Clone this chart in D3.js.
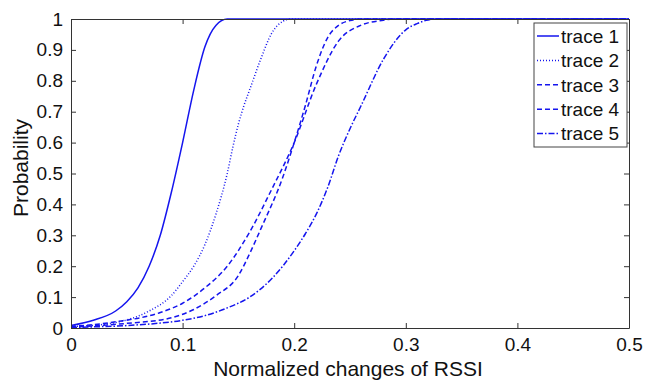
<head>
<meta charset="utf-8">
<style>
 body { margin: 0; background: #fff; }
 text { font-family: "Liberation Sans", Arial, sans-serif; fill: #111; }
</style>
</head>
<body>
<script src="https://d3js.org/d3.v7.min.js"></script>
<div id="chart"></div>
<script>
// values
var names = ["trace 1", "trace 2", "trace 3", "trace 4", "trace 5"];
var dashes = ["none", "1,2", "5,3", "5,3", "6,2,1.5,2"];

var x1 = [0, 0.02, 0.04, 0.05, 0.06, 0.07, 0.08, 0.09, 0.1, 0.11, 0.12, 0.13, 0.14, 0.5];
var y1 = [0.008, 0.025, 0.055, 0.085, 0.13, 0.2, 0.3, 0.44, 0.6, 0.77, 0.91, 0.98, 1, 1];

var x2 = [0, 0.03, 0.05, 0.07, 0.09, 0.1, 0.11, 0.12, 0.13, 0.14, 0.145, 0.15, 0.155, 0.16, 0.17, 0.18, 0.19, 0.196, 0.5];
var y2 = [0.005, 0.012, 0.026, 0.055, 0.105, 0.15, 0.2, 0.27, 0.37, 0.5, 0.585, 0.66, 0.72, 0.77, 0.87, 0.955, 0.993, 1, 1];

var x3 = [0, 0.04, 0.08, 0.1, 0.12, 0.14, 0.16, 0.18, 0.2, 0.22, 0.24, 0.26, 0.28, 0.29, 0.5];
var y3 = [0.005, 0.02, 0.05, 0.08, 0.13, 0.2, 0.31, 0.45, 0.6, 0.79, 0.93, 0.98, 0.996, 1, 1];

var x4 = [0, 0.05, 0.09, 0.11, 0.13, 0.15, 0.16, 0.17, 0.19, 0.2, 0.21, 0.22, 0.23, 0.24, 0.25, 0.26, 0.5];
var y4 = [0.003, 0.015, 0.033, 0.06, 0.105, 0.17, 0.24, 0.32, 0.49, 0.6, 0.72, 0.85, 0.94, 0.98, 0.995, 1, 1];

var x5 = [0, 0.05, 0.08, 0.1, 0.12, 0.14, 0.16, 0.18, 0.2, 0.21, 0.22, 0.23, 0.24, 0.25, 0.26, 0.28, 0.3, 0.31, 0.32, 0.33, 0.5];
var y5 = [0.002, 0.008, 0.016, 0.025, 0.04, 0.065, 0.1, 0.16, 0.25, 0.305, 0.37, 0.455, 0.56, 0.645, 0.72, 0.87, 0.965, 0.985, 0.997, 1, 1];

var xTicks = [0, 0.1, 0.2, 0.3, 0.4, 0.5];
var yTicks = [0, 0.1, 0.2, 0.3, 0.4, 0.5, 0.6, 0.7, 0.8, 0.9, 1];

var width = 647, height = 382;
var margin = {top: 19, right: 18, bottom: 54, left: 71};
var w = width - margin.left - margin.right,
    h = height - margin.top - margin.bottom;

var svg = d3.select("#chart").append("svg")
    .attr("width", width).attr("height", height);
var g = svg.append("g").attr("transform", "translate(" + margin.left + "," + margin.top + ")");

var x = d3.scaleLinear().domain([0, 0.5]).range([0, w]);
var y = d3.scaleLinear().domain([0, 1]).range([h, 0]);

var series = [[x1, y1], [x2, y2], [x3, y3], [x4, y4], [x5, y5]].map(function (s, i) {
  return {name: names[i], dash: dashes[i], pts: s[0].map(function (v, j) { return [v, s[1][j]]; })};
});

var line = d3.line()
    .x(function (d) { return x(d[0]); })
    .y(function (d) { return y(d[1]); })
    .curve(d3.curveMonotoneX);

g.selectAll(".trace").data(series).enter().append("path")
    .attr("class", "trace")
    .attr("d", function (d) { return line(d.pts); })
    .attr("fill", "none")
    .attr("stroke", "#1515ee")
    .attr("stroke-width", 1.5)
    .attr("stroke-dasharray", function (d) { return d.dash; });

// axes, MATLAB style: inward ticks on all four sides
var fmt = function (d) { return d3.format("")(+d.toFixed(1)); };
g.append("g").attr("transform", "translate(0," + h + ")")
    .call(d3.axisBottom(x).tickValues(xTicks).tickFormat(fmt).tickSizeInner(-5).tickSizeOuter(0).tickPadding(10));
g.append("g")
    .call(d3.axisLeft(y).tickValues(yTicks).tickFormat(fmt).tickSizeInner(-5).tickSizeOuter(0).tickPadding(8));
g.append("g").call(d3.axisTop(x).tickValues(xTicks).tickFormat("").tickSizeInner(-5).tickSizeOuter(0));
g.append("g").attr("transform", "translate(" + w + ",0)")
    .call(d3.axisRight(y).tickValues(yTicks).tickFormat("").tickSizeInner(-5).tickSizeOuter(0));

g.selectAll(".domain").attr("stroke", "#333");
g.selectAll(".tick line").attr("stroke", "#333");
g.selectAll(".tick text").style("font-size", "19px").attr("fill", "#111");

svg.append("text")
    .attr("x", margin.left + w / 2 - 2).attr("y", 376)
    .attr("text-anchor", "middle")
    .style("font-size", "21px")
    .text("Normalized changes of RSSI");

svg.append("text")
    .attr("transform", "translate(28,168) rotate(-90)")
    .attr("text-anchor", "middle")
    .style("font-size", "21px")
    .text("Probability");

// legend
var lg = svg.append("g").attr("transform", "translate(534,23)");
lg.append("rect").attr("width", 93).attr("height", 124)
    .attr("fill", "#fff").attr("stroke", "#444");
var item = lg.selectAll(".item").data(series).enter().append("g")
    .attr("transform", function (d, i) { return "translate(0," + (13 + i * 24.4) + ")"; });
item.append("line").attr("x1", 3).attr("x2", 25)
    .attr("stroke", "#1515ee").attr("stroke-width", 1.5)
    .attr("stroke-dasharray", function (d) { return d.dash; });
item.append("text").attr("x", 27).attr("dy", "0.36em")
    .style("font-size", "19px")
    .text(function (d) { return d.name; });
</script>
</body>
